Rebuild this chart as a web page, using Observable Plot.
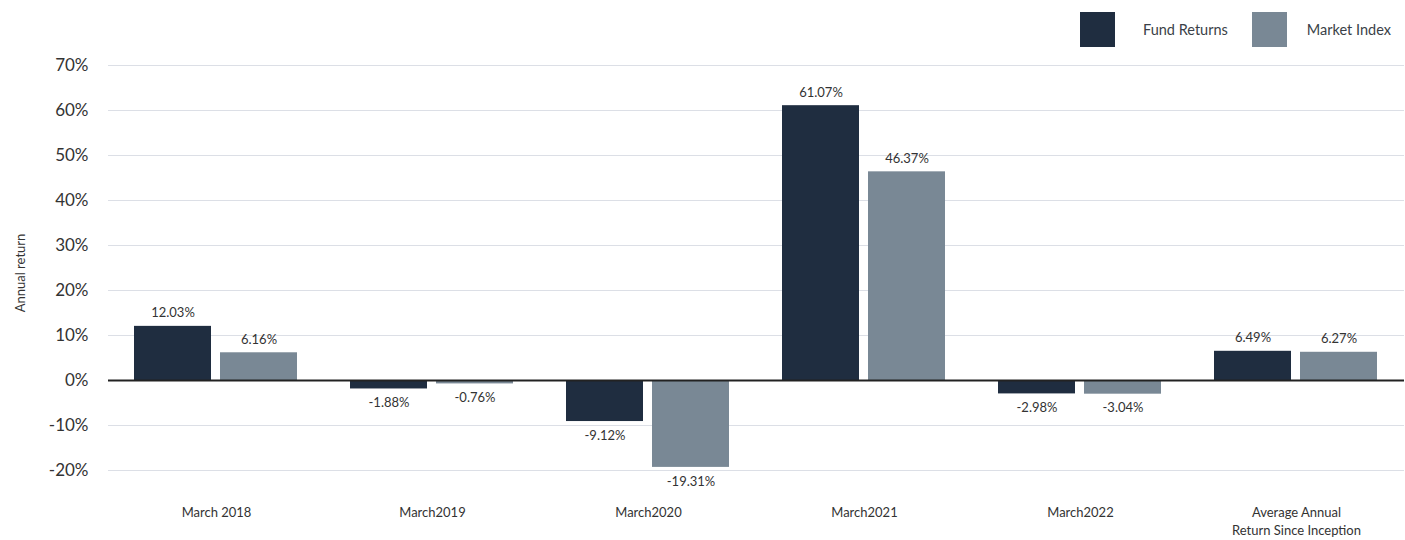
<!DOCTYPE html>
<html>
<head>
<meta charset="utf-8">
<script src="https://cdn.jsdelivr.net/npm/d3@7"></script>
<script src="https://cdn.jsdelivr.net/npm/@observablehq/plot@0.6"></script>
<style>
  html, body { margin: 0; padding: 0; background: #fff; }
  #wrap { position: relative; width: 1405px; height: 540px; font-family: Lato, "Open Sans", sans-serif; }
  #legend { position: absolute; top: 12px; left: 1080px; display: flex; align-items: center; font-size: 14.5px; color: #3a3f47; }
  .sw { width: 35px; height: 35px; display: inline-block; }
  #chart { position: absolute; top: 0; left: 0; }
</style>
</head>
<body>
<div id="wrap">
  <div id="chart"></div>
  <div id="legend"></div>
</div>
<script>
const categories = ["March 2018", "March2019", "March2020", "March2021", "March2022", "Average Annual\nReturn Since Inception"];
const seriesNames = ["Fund Returns", "Market Index"];
const fundReturns = [12.03, -1.88, -9.12, 61.07, -2.98, 6.49];
const marketIndex = [6.16, -0.76, -19.31, 46.37, -3.04, 6.27];
const colors = ["#1f2d40", "#798895"];
const yTicks = [-20, -10, 0, 10, 20, 30, 40, 50, 60, 70];

const data = [];
categories.forEach((c, i) => {
  data.push({cat: c, series: seriesNames[0], value: fundReturns[i]});
  data.push({cat: c, series: seriesNames[1], value: marketIndex[i]});
});

// legend
const legend = document.getElementById("legend");
seriesNames.forEach((s, i) => {
  const sw = document.createElement("span");
  sw.className = "sw";
  sw.style.background = colors[i];
  if (i > 0) sw.style.marginLeft = "24px";
  legend.appendChild(sw);
  const t = document.createElement("span");
  t.style.marginLeft = i === 0 ? "28px" : "20px";
  t.textContent = s;
  legend.appendChild(t);
});

const fmt = v => `${v.toFixed(2)}%`;

const chart = Plot.plot({
  width: 1405,
  height: 540,
  marginLeft: 106,
  marginRight: 0,
  marginTop: 65,
  marginBottom: 70,
  style: {fontFamily: "Lato, 'Open Sans', sans-serif", color: "#333", background: "transparent"},
  fx: {domain: categories, padding: 0, label: null},
  x: {domain: seriesNames, paddingInner: 0.103, paddingOuter: 0.296, axis: null},
  y: {domain: [-20, 70], label: null},
  color: {domain: seriesNames, range: colors},
  marks: [
    Plot.ruleY(yTicks.filter(d => d !== 0), {stroke: "#dcdfe6", strokeWidth: 1.2}),
    Plot.barY(data, {fx: "cat", x: "series", y: "value", fill: "series"}),
    Plot.ruleY([0], {stroke: "#222", strokeWidth: 2}),
    Plot.text(data.filter(d => d.value >= 0), {fx: "cat", x: "series", y: "value", text: d => fmt(d.value), lineAnchor: "bottom", dy: -9, fontSize: 13, fill: "#333"}),
    Plot.text(data.filter(d => d.value < 0), {fx: "cat", x: "series", y: "value", text: d => fmt(d.value), lineAnchor: "top", dy: 9, fontSize: 13, fill: "#333"}),
    Plot.axisY({ticks: yTicks, tickSize: 0, tickPadding: 20, tickFormat: d => `${d}%`, fontSize: 17, label: null}),
    Plot.axisFx({anchor: "bottom", tickSize: 0, tickPadding: 34, fontSize: 13, lineHeight: 1.35, label: null}),
    Plot.text(["Annual return"], {frameAnchor: "left", textAnchor: "middle", dx: -88, dy: 5, rotate: -90, fontSize: 13, fill: "#333", facet: "super"})
  ]
});
document.getElementById("chart").appendChild(chart);
</script>
</body>
</html>
